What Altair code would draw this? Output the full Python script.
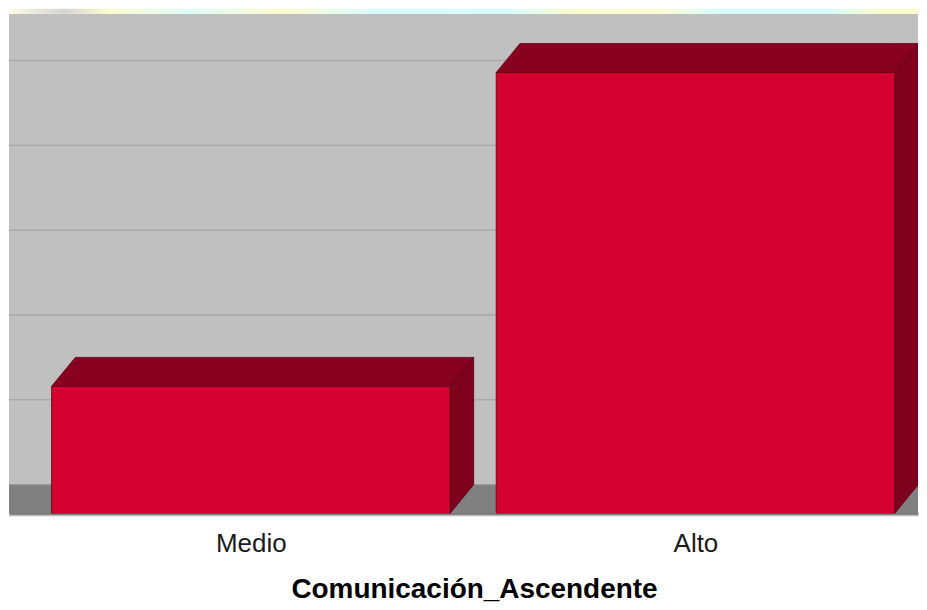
import altair as alt
import pandas as pd

# ---- data ----
categories = ["Medio", "Alto"]
counts = [15, 52]
grid_values = [10, 20, 30, 40, 50, 60]

# ---- style constants (3D look) ----
HALF_W = 0.448      # half bar width in x units
DEPTH_X = 0.0533    # 3D depth offset in x units
DEPTH_Y = 3.41      # 3D depth offset in y units
X_DOMAIN = [-0.5438, 1.5006]
Y_DOMAIN = [0, 58.94]
W, H = 911, 501

FRONT = "#d40030"
TOP = "#870020"
SIDE = "#7e001d"
EDGE = "#5a0014"

xs = list(range(len(categories)))

front_df = pd.DataFrame({
    "cat": categories,
    "x0": [i - HALF_W for i in xs],
    "x1": [i + HALF_W for i in xs],
    "y0": [0] * len(xs),
    "y1": counts,
})

top_rows, side_rows = [], []
for c, i, v in zip(categories, xs, counts):
    x0, x1 = i - HALF_W, i + HALF_W
    top_rows += [
        {"cat": c, "x": x0, "lo": v, "hi": v},
        {"cat": c, "x": x0 + DEPTH_X, "lo": v, "hi": v + DEPTH_Y},
        {"cat": c, "x": x1, "lo": v, "hi": v + DEPTH_Y},
        {"cat": c, "x": x1 + DEPTH_X, "lo": v + DEPTH_Y, "hi": v + DEPTH_Y},
    ]
    side_rows += [
        {"cat": c, "x": x1, "lo": 0, "hi": v},
        {"cat": c, "x": x1 + DEPTH_X, "lo": DEPTH_Y, "hi": v + DEPTH_Y},
    ]
top_df = pd.DataFrame(top_rows)
side_df = pd.DataFrame(side_rows)
grid_df = pd.DataFrame({"g": [g + DEPTH_Y for g in grid_values]})
floor_df = pd.DataFrame({"a": [0], "b": [DEPTH_Y]})

label_expr = " : ".join(
    [f"datum.value == {i} ? '{c}'" for i, c in zip(xs, categories)] + ["''"]
)

xscale = alt.Scale(domain=X_DOMAIN, nice=False, zero=False)
yscale = alt.Scale(domain=Y_DOMAIN, nice=False, zero=False)

x_axis = alt.Axis(
    values=xs, labelExpr=label_expr, ticks=False, tickSize=0, grid=False,
    domain=True, domainColor="#000000", domainWidth=1,
    labelFontSize=26, labelColor="#1a1a1a", labelPadding=17.5,
    labelFlush=False, labelOverlap=False, labelBound=False,
    labelFont="Liberation Sans",
    title="Comunicación_Ascendente", titleFontSize=28, titleFontWeight="bold",
    titleFont="Liberation Sans", titleColor="#000000", titlePadding=19,
    titleX=466, titleAnchor="middle", titleAlign="center",
)

band = alt.Chart(floor_df).mark_rect(
    clip=False,
    fill=alt.LinearGradient(
        gradient="linear", x1=0, x2=1, y1=0, y2=0,
        stops=[
            alt.GradientStop(color="#fffde2", offset=0.0),
            alt.GradientStop(color="#d4d4d4", offset=0.06),
            alt.GradientStop(color="#fdfccc", offset=0.11),
            alt.GradientStop(color="#dcfcf8", offset=0.2),
            alt.GradientStop(color="#fdfccc", offset=0.3),
            alt.GradientStop(color="#d8fcfc", offset=0.4),
            alt.GradientStop(color="#d6fdfd", offset=0.55),
            alt.GradientStop(color="#fdfdcc", offset=0.62),
            alt.GradientStop(color="#fdfdd2", offset=0.72),
            alt.GradientStop(color="#d6fdfd", offset=0.78),
            alt.GradientStop(color="#d6fdfd", offset=0.9),
            alt.GradientStop(color="#fcfcc8", offset=0.96),
            alt.GradientStop(color="#fcfcc8", offset=1.0),
        ],
    ),
).encode(x=alt.value(0), x2=alt.value(W), y=alt.value(-5), y2=alt.value(0))

floor = alt.Chart(floor_df).mark_rect(color="#808080", clip=True).encode(
    x=alt.value(0), x2=alt.value(W),
    y=alt.Y("a:Q", scale=yscale, axis=None),
    y2="b:Q",
)

floor_edge = alt.Chart(floor_df).mark_rule(color="#999999", strokeWidth=1.5).encode(
    y=alt.Y("b:Q", scale=yscale, axis=None)
)

grid = alt.Chart(grid_df).mark_rule(color="#a9a9a9", strokeWidth=1.5, clip=True).encode(
    y=alt.Y("g:Q", scale=yscale, axis=None)
)

side = alt.Chart(side_df).mark_area(
    color=SIDE, stroke=EDGE, strokeWidth=0.8, clip=True, interpolate="linear"
).encode(
    x=alt.X("x:Q", scale=xscale, axis=x_axis),
    y=alt.Y("lo:Q", scale=yscale, axis=None, stack=None),
    y2="hi:Q",
    detail="cat:N",
)

top = alt.Chart(top_df).mark_area(
    color=TOP, stroke=EDGE, strokeWidth=0.8, clip=True, interpolate="linear"
).encode(
    x=alt.X("x:Q", scale=xscale, axis=x_axis),
    y=alt.Y("lo:Q", scale=yscale, axis=None, stack=None),
    y2="hi:Q",
    detail="cat:N",
)

front = alt.Chart(front_df).mark_rect(
    color=FRONT, stroke=EDGE, strokeWidth=0.8, clip=True
).encode(
    x=alt.X("x0:Q", scale=xscale, axis=x_axis),
    x2="x1:Q",
    y=alt.Y("y0:Q", scale=yscale, axis=None),
    y2="y1:Q",
)

under = alt.Chart(floor_df).mark_rule(color="#b8b8b8", strokeWidth=1.5, clip=False).encode(
    x=alt.value(0), x2=alt.value(W), y=alt.value(H + 2)
)

chart = alt.layer(band, floor, floor_edge, grid, side, top, front, under).properties(
    width=W, height=H, padding=0, background="#ffffff",
).configure_view(
    fill="#c0c0c0", stroke=None
)

chart.save("out.html", embed_options={"renderer": "svg", "actions": False})
